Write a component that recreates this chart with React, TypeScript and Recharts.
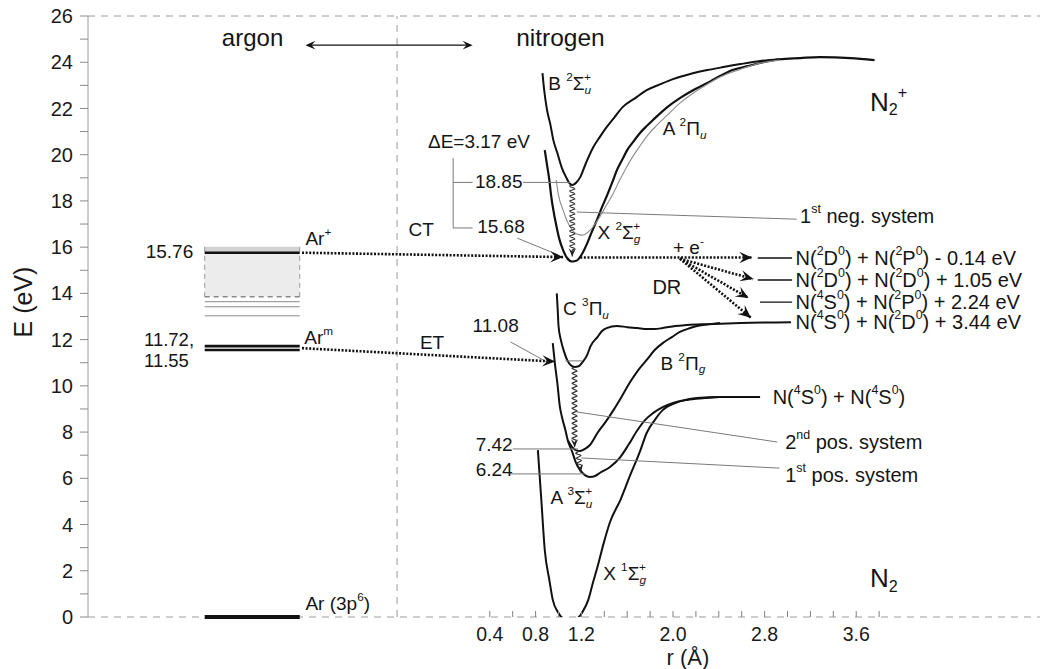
import React from 'react';
import { ComposedChart, Line, XAxis, YAxis, ReferenceLine, ReferenceDot, ReferenceArea } from 'recharts';

const FONT = '"Liberation Sans", Arial, Helvetica, sans-serif';

// potential curves, [r (Å), E (eV)]
const n2X = [[0.82, 7.22], [0.85, 5.06], [0.88, 2.9], [0.92, 1.6], [0.95, 0.74], [1.0, 0.17], [1.06, -0.13], [1.12, -0.17], [1.17, -0.04], [1.21, 0.22], [1.26, 0.74], [1.3, 1.47], [1.345, 2.25], [1.39, 3.11], [1.45, 4.11], [1.54, 5.06], [1.62, 6.06], [1.71, 7.14], [1.77, 7.96], [1.84, 8.52], [1.91, 8.95], [2.02, 9.26], [2.12, 9.39], [2.28, 9.47], [2.41, 9.52], [2.76, 9.52]];
const n2A = [[0.95, 11.85], [0.97, 10.9], [0.99, 10.12], [1.01, 9.17], [1.03, 8.65], [1.06, 8.09], [1.08, 7.66], [1.12, 7.14], [1.15, 6.7], [1.19, 6.36], [1.23, 6.14], [1.275, 6.06], [1.32, 6.1], [1.36, 6.23], [1.45, 6.49], [1.54, 6.92], [1.61, 7.44], [1.69, 8.09], [1.755, 8.52], [1.825, 8.82], [1.91, 9.08], [2.0, 9.26], [2.105, 9.39], [2.21, 9.47], [2.41, 9.52], [2.76, 9.52]];
const n2B = [[1.08, 7.66], [1.12, 7.35], [1.15, 7.22], [1.19, 7.18], [1.23, 7.27], [1.275, 7.44], [1.34, 7.96], [1.41, 8.43], [1.48, 8.95], [1.55, 9.52], [1.62, 10.12], [1.69, 10.64], [1.77, 11.12], [1.84, 11.55], [1.91, 11.85], [1.99, 12.11], [2.06, 12.33], [2.15, 12.5], [2.21, 12.59], [2.32, 12.67], [2.41, 12.72]];
const n2C = [[0.985, 14.0], [0.993, 13.3], [1.0, 12.6], [1.02, 12.0], [1.05, 11.46], [1.075, 11.12], [1.11, 10.88], [1.14, 10.82], [1.18, 10.86], [1.21, 11.03], [1.25, 11.33], [1.28, 11.72], [1.34, 12.11], [1.38, 12.37], [1.42, 12.5], [1.51, 12.59], [1.6, 12.54], [1.69, 12.5], [1.77, 12.46], [1.84, 12.46], [1.91, 12.5], [2.02, 12.59], [2.12, 12.63], [2.3, 12.67], [2.59, 12.72], [3.03, 12.75]];
const n2pX = [[0.88, 20.2], [0.9, 19.55], [0.92, 18.9], [0.935, 18.25], [0.955, 17.6], [0.98, 16.96], [1.005, 16.39], [1.04, 15.87], [1.075, 15.53], [1.12, 15.38], [1.16, 15.42], [1.2, 15.66], [1.255, 16.22], [1.29, 16.65], [1.335, 17.17], [1.38, 17.73], [1.425, 18.25], [1.47, 18.81], [1.51, 19.33], [1.555, 19.77], [1.6, 20.2], [1.65, 20.54], [1.71, 20.93], [1.77, 21.24], [1.825, 21.5], [1.95, 22.06], [2.06, 22.45], [2.175, 22.79], [2.3, 23.1], [2.41, 23.4], [2.52, 23.66], [2.65, 23.83], [2.79, 24.0], [2.93, 24.13], [3.11, 24.18], [3.28, 24.22], [3.55, 24.18], [3.76, 24.09]];
const n2pB = [[0.86, 23.53], [0.875, 22.79], [0.9, 21.93], [0.93, 21.28], [0.955, 20.63], [0.99, 20.07], [1.03, 19.42], [1.07, 18.99], [1.095, 18.77], [1.12, 18.69], [1.15, 18.77], [1.19, 19.03], [1.24, 19.64], [1.3, 20.29], [1.36, 20.76], [1.42, 21.19], [1.49, 21.63], [1.56, 22.06], [1.67, 22.45], [1.77, 22.79], [1.89, 23.05], [2.0, 23.27], [2.15, 23.49], [2.3, 23.66], [2.44, 23.79], [2.59, 23.92], [2.76, 24.05], [2.93, 24.13]];
const n2pA = [[0.98, 18.9], [1.0, 18.25], [1.04, 17.6], [1.075, 17.13], [1.12, 16.74], [1.16, 16.57], [1.21, 16.52], [1.27, 16.7], [1.32, 17.0], [1.37, 17.39], [1.42, 17.82], [1.48, 18.34], [1.53, 18.86], [1.58, 19.33], [1.64, 19.85], [1.71, 20.37], [1.78, 20.85], [1.86, 21.28], [1.95, 21.71], [2.06, 22.23], [2.175, 22.66], [2.3, 23.05], [2.41, 23.36], [2.59, 23.7], [2.76, 23.96], [2.93, 24.09]];

// argon levels (eV)
const arRange = [-2.09, -1.26];
const arThick = [15.76, 11.72, 11.55, 0];
const arBand = [13.85, 15.76];
const arHatch = [15.78, 16.02];
const arThin = [13.64, 13.42, 13.03];

// axis ticks
const xTicks = [0.4, 0.6, 0.8, 1.0, 1.2, 1.4, 1.6, 1.8, 2.0, 2.2, 2.4, 2.6, 2.8, 3.0, 3.2, 3.4, 3.6, 3.8];
const xLabeled = ['0.4', '0.8', '1.2', '2.0', '2.8', '3.6'];
const yTicks = [0, 1, 2, 3, 4, 5, 6, 7, 8, 9, 10, 11, 12, 13, 14, 15, 16, 17, 18, 19, 20, 21, 22, 23, 24, 25, 26];
const DIVIDER = -0.41;

type Kind = 'thin' | 'black' | 'dotted' | 'wavy' | 'double';
type Seg = { a: number[]; b: number[]; kind: Kind };

const segments: Seg[] = [
  // level markers and pointers
  { a: [0.69, 18.8], b: [1.1, 18.8], kind: 'thin' },
  { a: [0.08, 18.8], b: [0.25, 18.8], kind: 'thin' },
  { a: [0.08, 19.85], b: [0.08, 16.83], kind: 'thin' },
  { a: [0.08, 16.83], b: [0.25, 16.83], kind: 'thin' },
  { a: [0.64, 16.39], b: [1.0, 15.66], kind: 'thin' },
  { a: [0.58, 11.9], b: [0.9, 11.03], kind: 'thin' },
  { a: [1.06, 11.08], b: [1.21, 11.08], kind: 'thin' },
  { a: [0.6, 7.27], b: [1.17, 7.27], kind: 'thin' },
  { a: [0.58, 6.19], b: [1.23, 6.19], kind: 'thin' },
  { a: [1.16, 17.52], b: [3.08, 17.21], kind: 'thin' },
  { a: [1.16, 8.87], b: [2.91, 7.57], kind: 'thin' },
  { a: [1.2, 6.88], b: [2.93, 6.44], kind: 'thin' },
  { a: [2.74, 15.53], b: [3.04, 15.53], kind: 'black' },
  { a: [2.74, 14.58], b: [3.04, 14.58], kind: 'black' },
  { a: [2.76, 13.62], b: [3.04, 13.62], kind: 'black' },
  // charge transfer, energy transfer, dissociative recombination
  { a: [-1.24, 15.76], b: [1.04, 15.57], kind: 'dotted' },
  { a: [1.19, 15.55], b: [2.69, 15.55], kind: 'dotted' },
  { a: [2.06, 15.5], b: [2.7, 14.62], kind: 'dotted' },
  { a: [2.06, 15.5], b: [2.66, 13.8], kind: 'dotted' },
  { a: [2.06, 15.5], b: [2.68, 12.95], kind: 'dotted' },
  { a: [-1.24, 11.63], b: [0.97, 11.05], kind: 'dotted' },
  // radiative transitions
  { a: [1.12, 18.69], b: [1.12, 15.6], kind: 'wavy' },
  { a: [1.14, 10.81], b: [1.14, 7.35], kind: 'wavy' },
  { a: [1.17, 7.14], b: [1.19, 6.25], kind: 'wavy' },
  // argon <-> nitrogen
  { a: [-1.21, 24.74], b: [0.25, 24.74], kind: 'double' },
];

type Part = { t: string; s?: 'sup' | 'sub'; i?: boolean; dx?: number };
type Lab = { r: number; E: number; parts: Part[]; size?: number; anchor?: 'start' | 'end' | 'middle' };
const T = (t: string): Part => ({ t });
const SUP = (t: string, dx?: number): Part => ({ t, s: 'sup', dx });
const SUB = (t: string, i = false): Part => ({ t, s: 'sub', i });

const labels: Lab[] = [
  { r: -1.94, E: 25.1, parts: [T('argon')], size: 24 },
  { r: 0.63, E: 25.1, parts: [T('nitrogen')], size: 24.5 },
  { r: -2.19, E: 15.83, parts: [T('15.76')], anchor: 'end' },
  { r: -2.62, E: 12.03, parts: [T('11.72,')], size: 18.5 },
  { r: -2.62, E: 11.12, parts: [T('11.55')], size: 18.5 },
  { r: -1.21, E: 16.4, parts: [T('Ar'), SUP('+')] },
  { r: -1.22, E: 12.1, parts: [T('Ar'), SUP('m')] },
  { r: -1.21, E: 0.6, parts: [T('Ar (3p'), SUP('6'), T(')')] },
  { r: -0.31, E: 16.8, parts: [T('CT')] },
  { r: -0.21, E: 11.9, parts: [T('ET')] },
  { r: -0.14, E: 20.6, parts: [T('ΔE=3.17 eV')] },
  { r: 0.27, E: 18.86, parts: [T('18.85')] },
  { r: 0.29, E: 16.91, parts: [T('15.68')] },
  { r: 0.25, E: 12.63, parts: [T('11.08')] },
  { r: 0.6, E: 7.48, parts: [T('7.42')], anchor: 'end' },
  { r: 0.6, E: 6.4, parts: [T('6.24')], anchor: 'end' },
  { r: 0.91, E: 23.1, parts: [T('B '), SUP('2'), T('Σ'), SUB('u', true), SUP('+', -7)] },
  { r: 1.91, E: 21.15, parts: [T('A '), SUP('2'), T('Π'), SUB('u', true)] },
  { r: 1.34, E: 16.65, parts: [T('X '), SUP('2'), T('Σ'), SUB('g', true), SUP('+', -7)] },
  { r: 2.0, E: 16.0, parts: [T('+ e'), SUP('-')] },
  { r: 1.82, E: 14.27, parts: [T('DR')], size: 20 },
  { r: 1.04, E: 13.36, parts: [T('C '), SUP('3'), T('Π'), SUB('u', true)] },
  { r: 1.89, E: 11.0, parts: [T('B '), SUP('2'), T('Π'), SUB('g', true)] },
  { r: 0.93, E: 5.2, parts: [T('A '), SUP('3'), T('Σ'), SUB('u', true), SUP('+', -7)] },
  { r: 1.39, E: 1.9, parts: [T('X '), SUP('1'), T('Σ'), SUB('g', true), SUP('+', -7)] },
  { r: 3.72, E: 22.3, parts: [T('N'), SUB('2'), SUP('+')], size: 26 },
  { r: 3.72, E: 1.7, parts: [T('N'), SUB('2')], size: 26 },
  { r: 3.07, E: 15.53, parts: [T('N('), SUP('2'), T('D'), SUP('0'), T(') + N('), SUP('2'), T('P'), SUP('0'), T(') - 0.14 eV')], size: 20 },
  { r: 3.07, E: 14.58, parts: [T('N('), SUP('2'), T('D'), SUP('0'), T(') + N('), SUP('2'), T('D'), SUP('0'), T(') + 1.05 eV')], size: 20 },
  { r: 3.07, E: 13.62, parts: [T('N('), SUP('4'), T('S'), SUP('0'), T(') + N('), SUP('2'), T('P'), SUP('0'), T(') + 2.24 eV')], size: 20 },
  { r: 3.07, E: 12.76, parts: [T('N('), SUP('4'), T('S'), SUP('0'), T(') + N('), SUP('2'), T('D'), SUP('0'), T(') + 3.44 eV')], size: 20 },
  { r: 2.87, E: 9.52, parts: [T('N('), SUP('4'), T('S'), SUP('0'), T(') + N('), SUP('4'), T('S'), SUP('0'), T(')')], size: 20 },
  { r: 3.11, E: 17.34, parts: [T('1'), SUP('st'), T(' neg. system')], size: 20 },
  { r: 2.98, E: 7.57, parts: [T('2'), SUP('nd'), T(' pos. system')], size: 20 },
  { r: 2.98, E: 6.14, parts: [T('1'), SUP('st'), T(' pos. system')], size: 20 },
];

const curves = [
  { name: 'X1Sg', pts: n2X, color: '#111', w: 2 },
  { name: 'A3Su', pts: n2A, color: '#111', w: 2 },
  { name: 'B3Pg', pts: n2B, color: '#111', w: 2 },
  { name: 'C3Pu', pts: n2C, color: '#111', w: 2 },
  { name: 'X2Sg', pts: n2pX, color: '#111', w: 2.2 },
  { name: 'B2Su', pts: n2pB, color: '#111', w: 2 },
  { name: 'A2Pu', pts: n2pA, color: '#8c8c8c', w: 1.1 },
];

function Rich({ x, y, parts, size = 19, anchor = 'start' }: { x: number; y: number; parts: Part[]; size?: number; anchor?: string }) {
  let cur = 0;
  return (
    <text x={x} y={y} fontSize={size} textAnchor={anchor} fontFamily={FONT} fill="#151515" dominantBaseline="central">
      {parts.map((p, k) => {
        const target = p.s === 'sup' ? -size * 0.36 : p.s === 'sub' ? size * 0.3 : 0;
        const dy = target - cur;
        cur = target;
        return (
          <tspan key={k} dy={dy} dx={p.dx} fontSize={p.s ? size * 0.62 : size} fontStyle={p.i ? 'italic' : undefined}>
            {p.t}
          </tspan>
        );
      })}
    </text>
  );
}

function head(x1: number, y1: number, x2: number, y2: number, len = 12) {
  const a = Math.atan2(y2 - y1, x2 - x1);
  const w = 0.42;
  const p1 = [x2 - len * Math.cos(a - w), y2 - len * Math.sin(a - w)];
  const p2 = [x2 - len * Math.cos(a + w), y2 - len * Math.sin(a + w)];
  const n = [x2 - len * 0.55 * Math.cos(a), y2 - len * 0.55 * Math.sin(a)];
  return `M${x2},${y2} L${p1[0]},${p1[1]} L${n[0]},${n[1]} L${p2[0]},${p2[1]} Z`;
}

const segShape = (kind: Kind) => (p: any) => {
  const { x1, y1, x2, y2 } = p;
  if ([x1, y1, x2, y2].some((v) => typeof v !== 'number' || isNaN(v))) return <g />;
  if (kind === 'thin') return <line x1={x1} y1={y1} x2={x2} y2={y2} stroke="#7a7a7a" strokeWidth={1} />;
  if (kind === 'black') return <line x1={x1} y1={y1} x2={x2} y2={y2} stroke="#111" strokeWidth={1.4} />;
  if (kind === 'double') {
    return (
      <g>
        <line x1={x1 + 4} y1={y1} x2={x2 - 4} y2={y2} stroke="#111" strokeWidth={1.3} />
        <path d={head(x2, y2, x1, y1, 11)} fill="#111" />
        <path d={head(x1, y1, x2, y2, 11)} fill="#111" />
      </g>
    );
  }
  if (kind === 'dotted') {
    return (
      <g>
        <line x1={x1} y1={y1} x2={x2} y2={y2} stroke="#111" strokeWidth={2.6} strokeDasharray="2 1.6" />
        <path d={head(x1, y1, x2, y2, 14)} fill="#111" />
      </g>
    );
  }
  // wavy
  const dxl = x2 - x1;
  const dyl = y2 - y1;
  const len = Math.hypot(dxl, dyl);
  const ux = dxl / len;
  const uy = dyl / len;
  let d = `M${x1},${y1}`;
  for (let s = 1; s <= len - 6; s += 1) {
    const o = 2.6 * Math.sin((s / 5) * Math.PI * 2);
    d += ` L${x1 + ux * s - uy * o},${y1 + uy * s + ux * o}`;
  }
  d += ` L${x2},${y2}`;
  return (
    <g>
      <path d={d} fill="none" stroke="#333" strokeWidth={1.1} />
      <path d={head(x1, y1, x2, y2, 9)} fill="#222" />
    </g>
  );
};

function XTick(props: any) {
  const { x, y, payload } = props;
  const lab = Number(payload.value).toFixed(1);
  return (
    <g>
      <line x1={x} x2={x} y1={y - 6} y2={y} stroke="#808080" strokeWidth={1} />
      {xLabeled.includes(lab) && (
        <text x={x} y={y + 24} textAnchor="middle" fontSize={19.5} fontFamily={FONT} fill="#1a1a1a">
          {lab}
        </text>
      )}
    </g>
  );
}

export default function App() {
  return (
    <div style={{ width: 1043, height: 669, background: '#fff' }}>
      <style>{'body{margin:0;background:#fff}'}</style>
      <ComposedChart width={1043} height={669} margin={{ top: 16, right: 3, bottom: 12, left: 0 }}>
        <XAxis
          type="number"
          dataKey="r"
          domain={[-3.109, 5.205]}
          allowDataOverflow
          ticks={xTicks}
          interval={0}
          tick={<XTick />}
          tickLine={false}
          tickSize={0}
          tickMargin={0}
          height={40}
          axisLine={false}
          label={{
            content: () => (
              <text x={688} y={657} textAnchor="middle" dominantBaseline="central" fontSize={22} fontFamily={FONT} fill="#1a1a1a">
                r (Å)
              </text>
            ),
          }}
        />
        <YAxis
          type="number"
          domain={[0, 26]}
          allowDataOverflow
          ticks={yTicks}
          interval={0}
          width={88}
          tickSize={8}
          tickMargin={7}
          tickLine={{ stroke: '#8a8a8a' }}
          axisLine={{ stroke: '#9a9a9a' }}
          tick={{ fill: '#1a1a1a', fontSize: 20, fontFamily: FONT }}
          tickFormatter={(v: number) => (v % 2 === 0 ? String(v) : '')}
          label={{
            content: () => (
              <text transform="translate(23,302) rotate(-90)" textAnchor="middle" dominantBaseline="central" fontSize={25} fontFamily={FONT} fill="#1a1a1a">
                E (eV)
              </text>
            ),
          }}
        />

        <ReferenceLine y={0} stroke="#9a9a9a" strokeDasharray="7 6" />
        <ReferenceLine y={26} stroke="#9a9a9a" strokeDasharray="7 6" />
        <ReferenceLine x={DIVIDER} stroke="#9a9a9a" strokeDasharray="7 6" />

        <ReferenceArea x1={arRange[0]} x2={arRange[1]} y1={arBand[0]} y2={arBand[1]} fill="#ececec" fillOpacity={1} stroke="none" />
        <ReferenceArea x1={arRange[0]} x2={arRange[1]} y1={arHatch[0]} y2={arHatch[1]} fill="#d2d2d2" fillOpacity={1} stroke="none" />
        <ReferenceLine segment={[{ x: arRange[0], y: arBand[0] }, { x: arRange[0], y: arHatch[1] }]} stroke="#9a9a9a" strokeDasharray="5 4" />
        <ReferenceLine segment={[{ x: arRange[1], y: arBand[0] }, { x: arRange[1], y: arHatch[1] }]} stroke="#9a9a9a" strokeDasharray="5 4" />
        <ReferenceLine segment={[{ x: arRange[0], y: arBand[0] }, { x: arRange[1], y: arBand[0] }]} stroke="#8a8a8a" strokeDasharray="5 4" strokeWidth={1.5} />
        {arThin.map((e) => (
          <ReferenceLine key={`t${e}`} segment={[{ x: arRange[0], y: e }, { x: arRange[1], y: e }]} stroke="#8a8a8a" strokeWidth={1} />
        ))}
        {arThick.map((e) => (
          <ReferenceLine key={`k${e}`} segment={[{ x: arRange[0], y: e }, { x: arRange[1], y: e }]} stroke="#111" strokeWidth={e === 0 ? 4 : 2.6} ifOverflow="visible" />
        ))}

        {curves.map((c) => (
          <Line
            key={c.name}
            data={c.pts.map(([r, E]) => ({ r, E }))}
            dataKey="E"
            type="monotone"
            stroke={c.color}
            strokeWidth={c.w}
            dot={false}
            activeDot={false}
            isAnimationActive={false}
            legendType="none"
          />
        ))}

        {segments.map((s, i) => (
          <ReferenceLine key={`s${i}`} segment={[{ x: s.a[0], y: s.a[1] }, { x: s.b[0], y: s.b[1] }]} shape={segShape(s.kind)} />
        ))}

        {labels.map((l, i) => (
          <ReferenceDot
            key={`l${i}`}
            x={l.r}
            y={l.E}
            r={0}
            ifOverflow="visible"
            shape={(p: any) => <Rich x={p.cx} y={p.cy} parts={l.parts} size={l.size ?? 19} anchor={l.anchor ?? 'start'} />}
          />
        ))}
      </ComposedChart>
    </div>
  );
}
